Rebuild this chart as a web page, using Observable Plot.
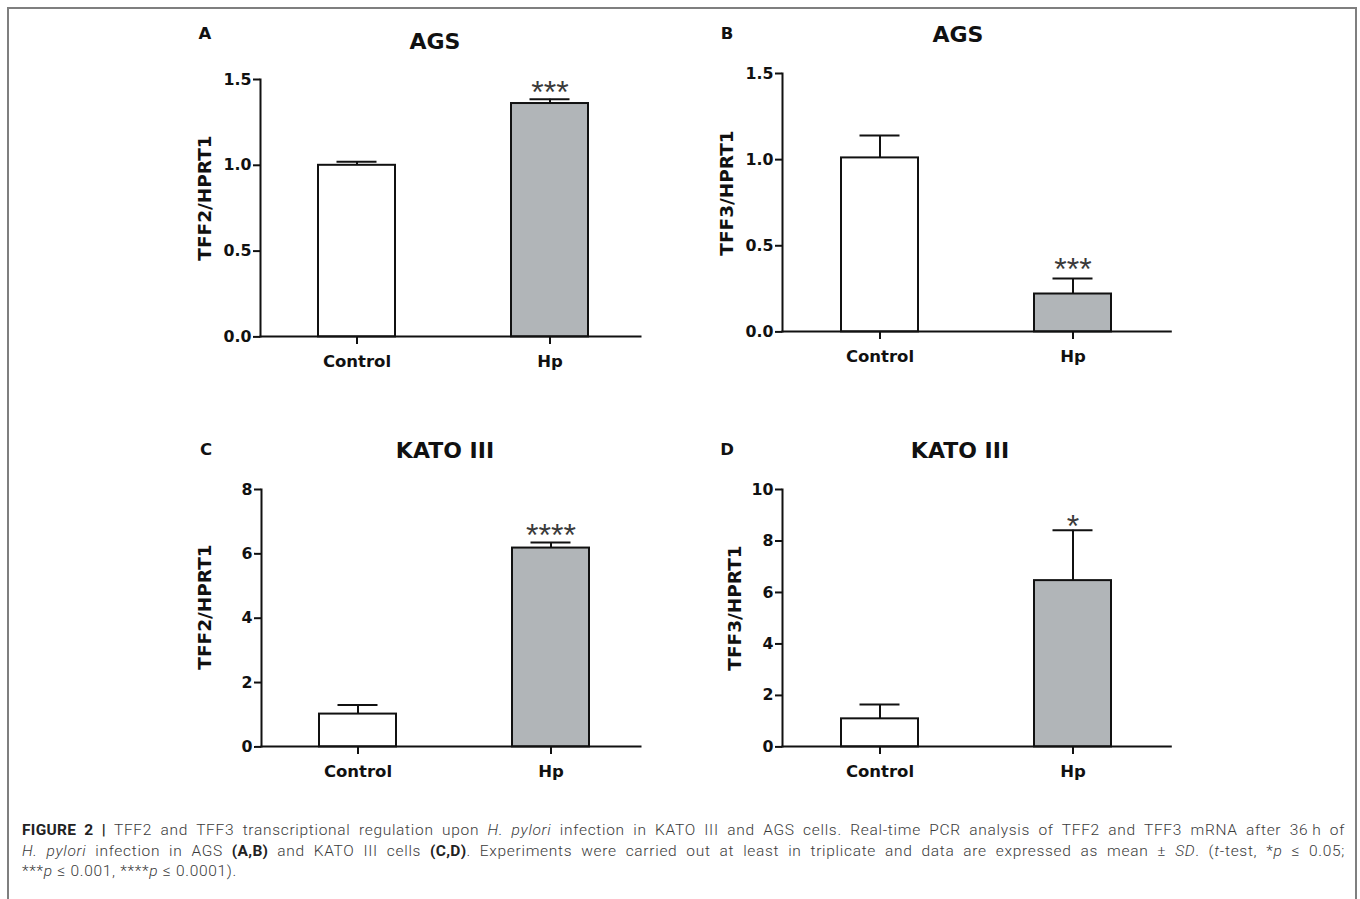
<!DOCTYPE html>
<html>
<head>
<meta charset="utf-8">
<script src="https://cdn.jsdelivr.net/npm/d3@7"></script>
<script src="https://cdn.jsdelivr.net/npm/@observablehq/plot@0.6"></script>
<style>
  html, body { margin: 0; padding: 0; background: #fff; }
  body { width: 1360px; height: 899px; position: relative; overflow: hidden; font-family: "DejaVu Sans", sans-serif; }
  #border { position: absolute; left: 7px; top: 7px; width: 1350px; height: 920px; border: 2px solid #7f7f7f; box-sizing: border-box; }
  .abs { position: absolute; white-space: nowrap; line-height: 1; transform: translate(-50%, -50%); font-weight: bold; color: #111; font-family: "DejaVu Sans", sans-serif; }
  .letter { font-size: 16.5px; }
  .title { font-size: 22px; }
  .ylab { font-size: 18.5px; transform: translate(-50%, -50%) rotate(-90deg); }
  .panel { position: absolute; }
  #caption { position: absolute; left: 22px; top: 820px; width: 1323px; font-family: "Roboto", "Liberation Sans", sans-serif; font-weight: 300; font-size: 15.5px; letter-spacing: 0.7px; line-height: 20.5px; color: #3a3a3a; }
  #caption .ln { display: block; text-align: justify; text-align-last: justify; white-space: nowrap; }
  #caption .ln.last { text-align-last: left; }
  #caption b { font-weight: bold; color: #222; letter-spacing: 0.3px; }
</style>
</head>
<body>
<div id="border"></div>
<div id="figure"></div>
<div id="caption">
  <span class="ln"><b>FIGURE 2 |</b> TFF2 and TFF3 transcriptional regulation upon <i>H. pylori</i> infection in KATO III and AGS cells. Real-time PCR analysis of TFF2 and TFF3 mRNA after 36&#8201;h of</span>
  <span class="ln"><i>H. pylori</i> infection in AGS <b>(A,B)</b> and KATO III cells <b>(C,D)</b>. Experiments were carried out at least in triplicate and data are expressed as mean &plusmn; <i>SD</i>. (<i>t</i>-test, *<i>p</i> &le; 0.05;</span>
  <span class="ln last">***<i>p</i> &le; 0.001, ****<i>p</i> &le; 0.0001).</span>
</div>
<script>
// ---- Data ----
const categories = ["Control", "Hp"];
const barFills = ["white", "#b1b5b8"];

const letters = ["A", "B", "C", "D"];
const titles = ["AGS", "AGS", "KATO III", "KATO III"];
const yLabels = ["TFF2/HPRT1", "TFF3/HPRT1", "TFF2/HPRT1", "TFF3/HPRT1"];

const meanA = [1.00, 1.36];
const sdA   = [0.02, 0.025];
const starsA = ["", "***"];
const ticksA = [0, 0.5, 1.0, 1.5];

const meanB = [1.01, 0.22];
const sdB   = [0.13, 0.09];
const starsB = ["", "***"];
const ticksB = [0, 0.5, 1.0, 1.5];

const meanC = [1.02, 6.18];
const sdC   = [0.28, 0.17];
const starsC = ["", "****"];
const ticksC = [0, 2, 4, 6, 8];

const meanD = [1.09, 6.46];
const sdD   = [0.56, 1.96];
const starsD = ["", "*"];
const ticksD = [0, 2, 4, 6, 8, 10];

// ---- Layout (page pixel geometry of each panel) ----
const panels = [
  {mean: meanA, sd: sdA, stars: starsA, ticks: ticksA, fmt: d3.format(".1f"), x0: 260, x1: 640, yTop: 79.3, y0: 336.7, c1: 356.3, c2: 549.9, starDy: 4,
   letter: [205, 34], title: [435, 42], ylab: [205, 198]},
  {mean: meanB, sd: sdB, stars: starsB, ticks: ticksB, fmt: d3.format(".1f"), x0: 781.7, x1: 1170, yTop: 73.3, y0: 331.7, c1: 879.2, c2: 1072.5, starDy: 2,
   letter: [727, 34], title: [958, 35], ylab: [727, 193]},
  {mean: meanC, sd: sdC, stars: starsC, ticks: ticksC, fmt: d3.format("d"), x0: 261, x1: 640, yTop: 489.3, y0: 746.7, c1: 357.8, c2: 551, starDy: 3,
   letter: [206, 450], title: [445, 451], ylab: [205, 607]},
  {mean: meanD, sd: sdD, stars: starsD, ticks: ticksD, fmt: d3.format("d"), x0: 781.7, x1: 1170, yTop: 489.3, y0: 746.7, c1: 878.7, c2: 1072, starDy: 7,
   letter: [727, 450], title: [960, 451], ylab: [735, 608]}
];

const fig = document.getElementById("figure");
const font = '"DejaVu Sans", sans-serif';
const starFont = '"Liberation Sans", Arial, sans-serif';

panels.forEach((p, k) => {
  const mL = 60, mT = 30, mR = 20, mB = 50;
  const sx = p.x0 - mL, sy = p.yTop - mT;
  const W = Math.round(p.x1 - sx + mR);
  const H = Math.round(p.y0 - sy + mB);
  const step = p.c2 - p.c1;
  const data = categories.map((c, i) => ({
    cat: c, mean: p.mean[i], top: p.mean[i] + p.sd[i], stars: p.stars[i], fill: barFills[i]
  }));
  const chart = Plot.plot({
    width: W, height: H,
    marginLeft: mL, marginTop: mT, marginRight: W - (p.x1 - sx), marginBottom: mB,
    style: {fontFamily: font, background: "transparent", color: "#111"},
    x: {type: "band", domain: categories, range: [p.c1 - step / 2 - sx, p.c2 + step / 2 - sx], paddingInner: 0.6, paddingOuter: 0.3, label: null},
    y: {domain: [p.ticks[0], p.ticks[p.ticks.length - 1]], range: [p.y0 - sy, p.yTop - sy], label: null},
    color: {type: "identity"},
    marks: [
      Plot.ruleX(data, {x: "cat", y1: "mean", y2: "top", stroke: "#111", strokeWidth: 2}),
      Plot.tickY(data, {x: "cat", y: "top", insetLeft: 18.5, insetRight: 18.5, stroke: "#111", strokeWidth: 2}),
      Plot.barY(data, {x: "cat", y: "mean", fill: "fill", stroke: "#111", strokeWidth: 2}),
      Plot.text(data, {x: "cat", y: "top", text: "stars", lineAnchor: "bottom", dy: p.starDy, fontSize: 32, fill: "#3a3a3a", fontFamily: starFont}),
      Plot.frame({anchor: "left", stroke: "#111", strokeWidth: 2}),
      Plot.frame({anchor: "bottom", stroke: "#111", strokeWidth: 2}),
      Plot.axisY({ticks: p.ticks, tickFormat: p.fmt, tickSize: 7, tickPadding: 2, fontSize: 15.8, fontWeight: "bold", fontFamily: font, strokeWidth: 2, stroke: "#111", fill: "#111", label: null}),
      Plot.axisX({tickSize: 8, tickPadding: 11, fontSize: 16.5, fontWeight: "bold", fontFamily: font, strokeWidth: 2, stroke: "#111", fill: "#111", label: null})
    ]
  });
  const wrap = document.createElement("div");
  wrap.className = "panel";
  wrap.style.left = sx + "px";
  wrap.style.top = sy + "px";
  wrap.appendChild(chart);
  fig.appendChild(wrap);

  const mk = (cls, txt, pos) => {
    const d = document.createElement("div");
    d.className = "abs " + cls;
    d.textContent = txt;
    d.style.left = pos[0] + "px";
    d.style.top = pos[1] + "px";
    fig.appendChild(d);
  };
  mk("letter", letters[k], p.letter);
  mk("title", titles[k], p.title);
  mk("ylab", yLabels[k], p.ylab);
});
</script>
</body>
</html>
